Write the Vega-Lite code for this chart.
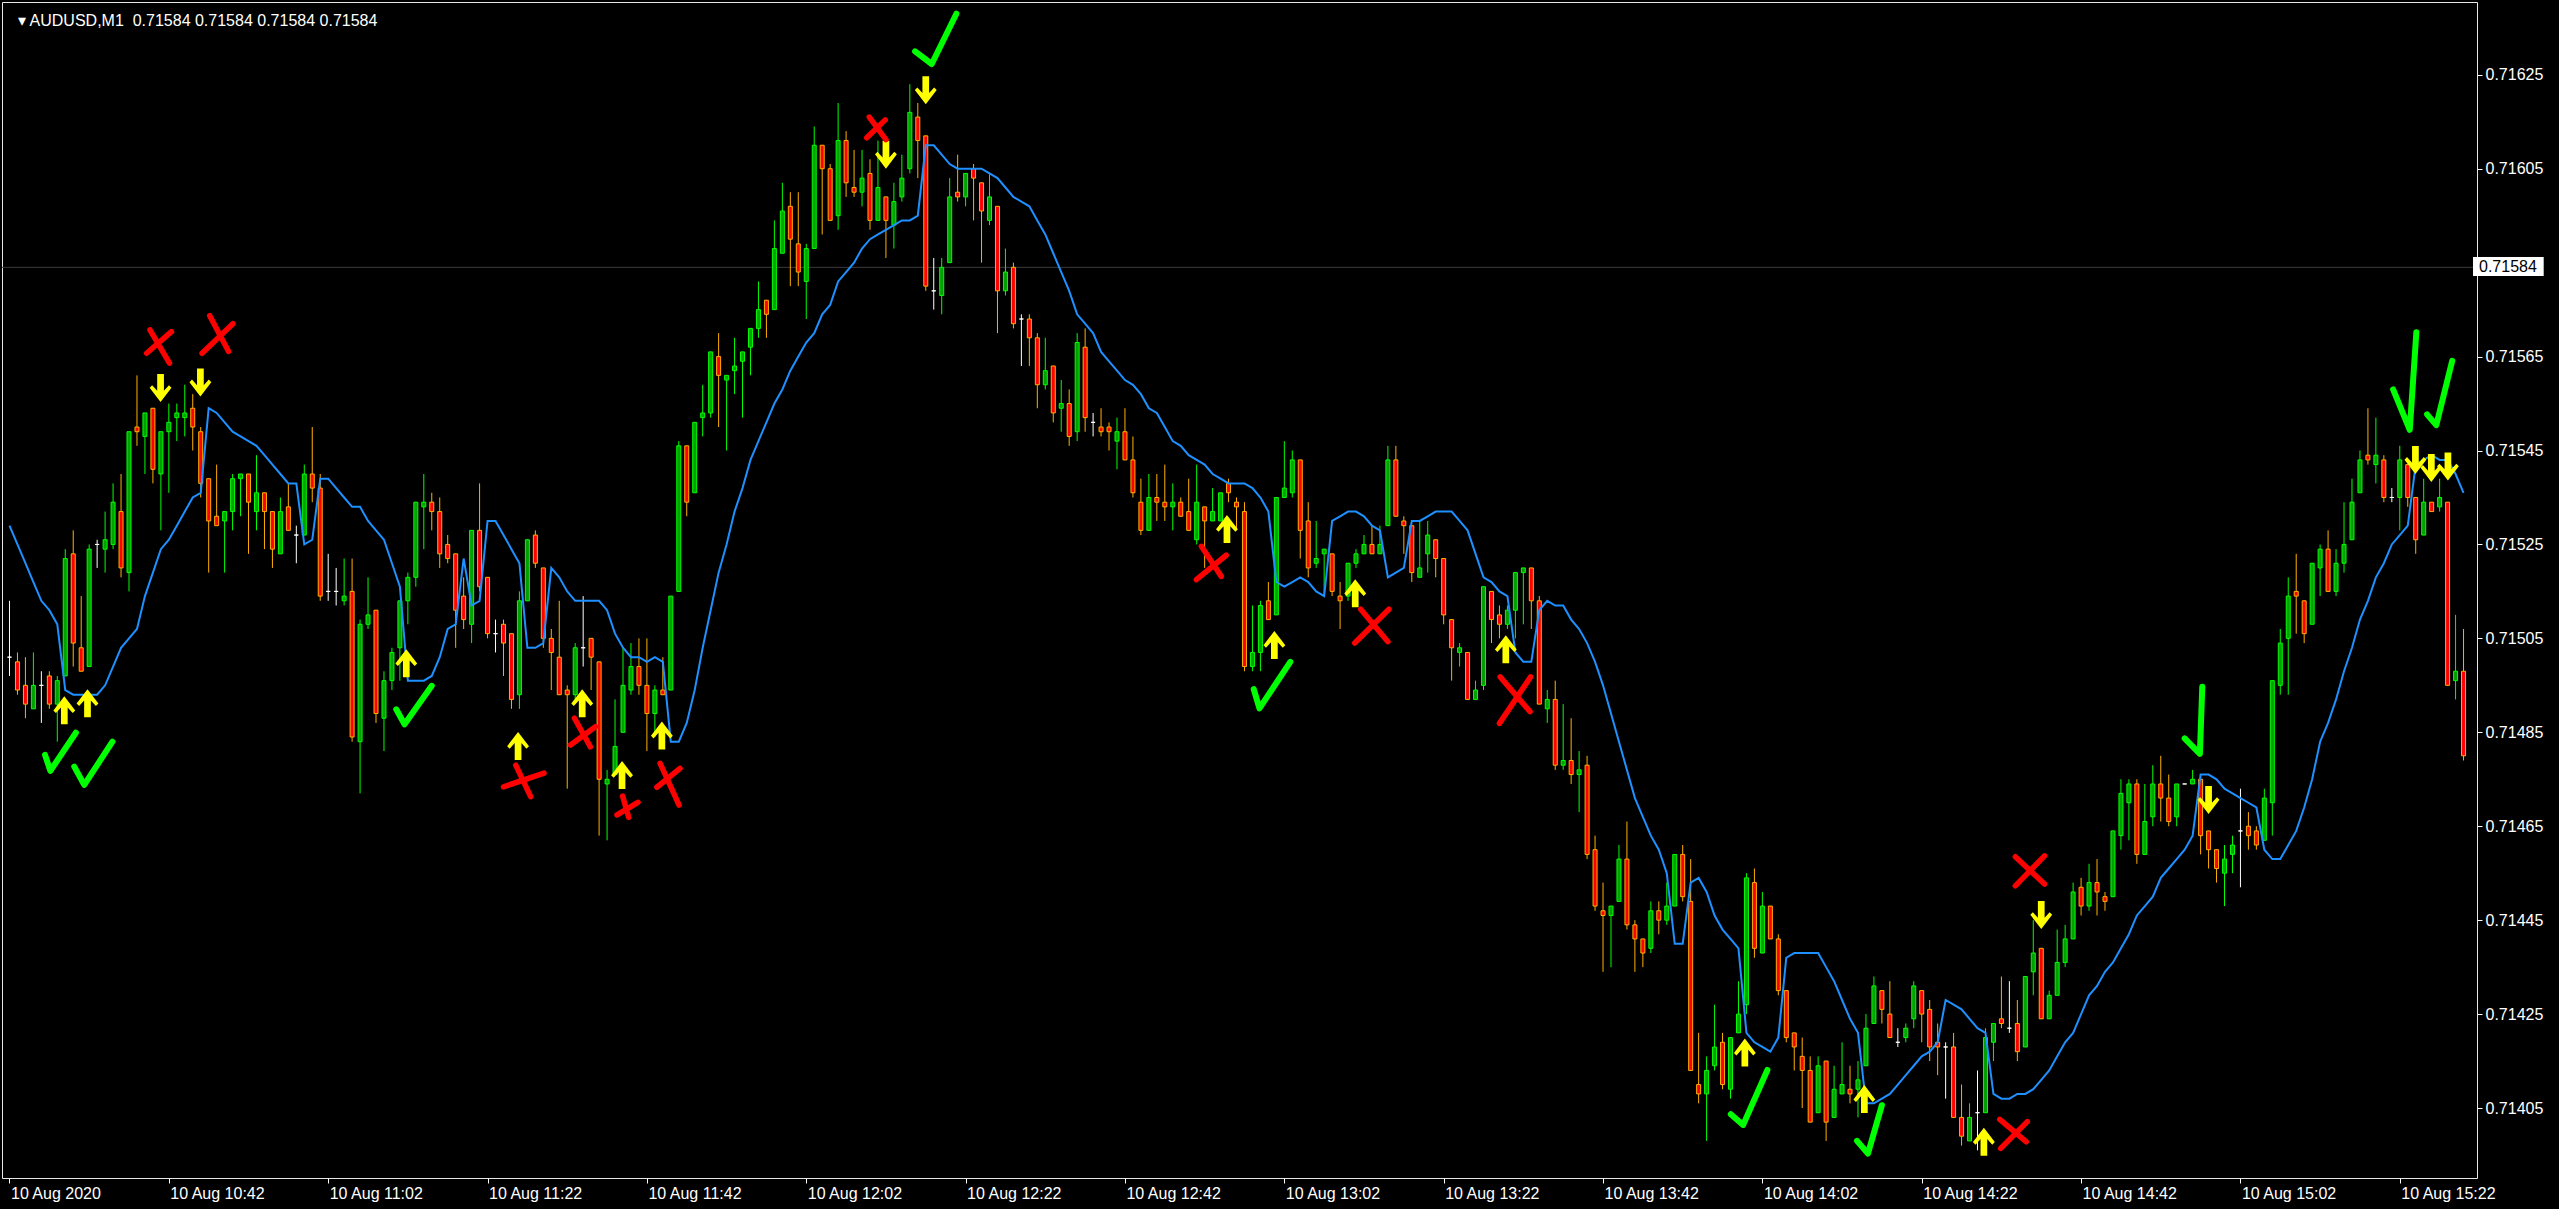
{
"$schema": "https://vega.github.io/schema/vega-lite/v6.json",
"width": 2475, "height": 1176, "autosize": "none",
"padding": {"left": 2, "top": 2, "right": 82, "bottom": 31},
"background": "#000000",
"title": {"text": "▾ AUDUSD,M1\u00a0 0.71584 0.71584 0.71584 0.71584", "anchor": "start", "frame": "group", "orient": "top", "offset": -40, "baseline": "alphabetic", "dx": 16, "color": "#FFFFFF", "font": "Liberation Sans", "fontSize": 16, "fontWeight": "normal"},
"config": {"view": {"stroke": "#E6E6E6", "strokeWidth": 1}, "axis": {"grid": false, "domain": false, "labelColor": "#FFFFFF", "tickColor": "#FFFFFF", "labelFont": "Liberation Sans", "labelFontSize": 16, "tickSize": 5}},
"datasets": {
"bars": [
{"i":0,"o":0.71501,"h":0.71513,"l":0.71497,"c":0.71501,"ma":0.71529},
{"i":1,"o":0.71500,"h":0.71502,"l":0.71493,"c":0.71494,"ma":0.71525},
{"i":2,"o":0.71495,"h":0.71501,"l":0.71488,"c":0.71491,"ma":0.71521},
{"i":3,"o":0.71490,"h":0.71502,"l":0.71490,"c":0.71495,"ma":0.71517},
{"i":4,"o":0.71495,"h":0.71498,"l":0.71487,"c":0.71495,"ma":0.71513},
{"i":5,"o":0.71497,"h":0.71498,"l":0.71490,"c":0.71491,"ma":0.71511},
{"i":6,"o":0.71491,"h":0.71497,"l":0.71483,"c":0.71496,"ma":0.71508},
{"i":7,"o":0.71497,"h":0.71524,"l":0.71497,"c":0.71522,"ma":0.71494},
{"i":8,"o":0.71523,"h":0.71528,"l":0.71499,"c":0.71504,"ma":0.71493},
{"i":9,"o":0.71503,"h":0.71514,"l":0.71498,"c":0.71498,"ma":0.71493},
{"i":10,"o":0.71499,"h":0.71525,"l":0.71499,"c":0.71524,"ma":0.71493},
{"i":11,"o":0.71525,"h":0.71526,"l":0.71520,"c":0.71525,"ma":0.71493},
{"i":12,"o":0.71524,"h":0.71532,"l":0.71519,"c":0.71526,"ma":0.71495},
{"i":13,"o":0.71525,"h":0.71538,"l":0.71524,"c":0.71534,"ma":0.71499},
{"i":14,"o":0.71532,"h":0.71540,"l":0.71518,"c":0.71520,"ma":0.71503},
{"i":15,"o":0.71519,"h":0.71549,"l":0.71515,"c":0.71549,"ma":0.71505},
{"i":16,"o":0.71550,"h":0.71561,"l":0.71546,"c":0.71549,"ma":0.71507},
{"i":17,"o":0.71548,"h":0.71553,"l":0.71540,"c":0.71553,"ma":0.71514},
{"i":18,"o":0.71554,"h":0.71554,"l":0.71538,"c":0.71541,"ma":0.71519},
{"i":19,"o":0.71540,"h":0.71549,"l":0.71528,"c":0.71549,"ma":0.71524},
{"i":20,"o":0.71549,"h":0.71555,"l":0.71536,"c":0.71551,"ma":0.71526},
{"i":21,"o":0.71552,"h":0.71555,"l":0.71547,"c":0.71553,"ma":0.71529},
{"i":22,"o":0.71552,"h":0.71559,"l":0.71548,"c":0.71553,"ma":0.71532},
{"i":23,"o":0.71554,"h":0.71557,"l":0.71545,"c":0.71550,"ma":0.71535},
{"i":24,"o":0.71549,"h":0.71550,"l":0.71535,"c":0.71538,"ma":0.71536},
{"i":25,"o":0.71539,"h":0.71539,"l":0.71519,"c":0.71530,"ma":0.71554},
{"i":26,"o":0.71531,"h":0.71542,"l":0.71529,"c":0.71529,"ma":0.71553},
{"i":27,"o":0.71530,"h":0.71532,"l":0.71519,"c":0.71532,"ma":0.71551},
{"i":28,"o":0.71532,"h":0.71540,"l":0.71528,"c":0.71539,"ma":0.71549},
{"i":29,"o":0.71539,"h":0.71540,"l":0.71531,"c":0.71540,"ma":0.71548},
{"i":30,"o":0.71540,"h":0.71540,"l":0.71523,"c":0.71534,"ma":0.71547},
{"i":31,"o":0.71532,"h":0.71544,"l":0.71528,"c":0.71536,"ma":0.71546},
{"i":32,"o":0.71536,"h":0.71536,"l":0.71524,"c":0.71532,"ma":0.71544},
{"i":33,"o":0.71532,"h":0.71532,"l":0.71520,"c":0.71524,"ma":0.71542},
{"i":34,"o":0.71523,"h":0.71535,"l":0.71523,"c":0.71532,"ma":0.71540},
{"i":35,"o":0.71533,"h":0.71538,"l":0.71528,"c":0.71528,"ma":0.71538},
{"i":36,"o":0.71527,"h":0.71529,"l":0.71521,"c":0.71527,"ma":0.71538},
{"i":37,"o":0.71527,"h":0.71542,"l":0.71527,"c":0.71540,"ma":0.71525},
{"i":38,"o":0.71540,"h":0.71550,"l":0.71534,"c":0.71537,"ma":0.71526},
{"i":39,"o":0.71537,"h":0.71540,"l":0.71513,"c":0.71514,"ma":0.71539},
{"i":40,"o":0.71515,"h":0.71523,"l":0.71513,"c":0.71515,"ma":0.71539},
{"i":41,"o":0.71515,"h":0.71520,"l":0.71512,"c":0.71515,"ma":0.71537},
{"i":42,"o":0.71513,"h":0.71522,"l":0.71512,"c":0.71514,"ma":0.71535},
{"i":43,"o":0.71515,"h":0.71522,"l":0.71483,"c":0.71484,"ma":0.71533},
{"i":44,"o":0.71483,"h":0.71509,"l":0.71472,"c":0.71508,"ma":0.71533},
{"i":45,"o":0.71508,"h":0.71518,"l":0.71507,"c":0.71510,"ma":0.71530},
{"i":46,"o":0.71511,"h":0.71511,"l":0.71487,"c":0.71489,"ma":0.71528},
{"i":47,"o":0.71488,"h":0.71498,"l":0.71481,"c":0.71496,"ma":0.71526},
{"i":48,"o":0.71496,"h":0.71503,"l":0.71494,"c":0.71502,"ma":0.71521},
{"i":49,"o":0.71503,"h":0.71513,"l":0.71496,"c":0.71513,"ma":0.71516},
{"i":50,"o":0.71513,"h":0.71519,"l":0.71508,"c":0.71518,"ma":0.71496},
{"i":51,"o":0.71518,"h":0.71534,"l":0.71516,"c":0.71534,"ma":0.71496},
{"i":52,"o":0.71533,"h":0.71540,"l":0.71524,"c":0.71534,"ma":0.71496},
{"i":53,"o":0.71534,"h":0.71536,"l":0.71528,"c":0.71532,"ma":0.71497},
{"i":54,"o":0.71532,"h":0.71535,"l":0.71520,"c":0.71523,"ma":0.71501},
{"i":55,"o":0.71525,"h":0.71527,"l":0.71521,"c":0.71522,"ma":0.71507},
{"i":56,"o":0.71523,"h":0.71523,"l":0.71503,"c":0.71511,"ma":0.71508},
{"i":57,"o":0.71514,"h":0.71518,"l":0.71507,"c":0.71509,"ma":0.71522},
{"i":58,"o":0.71508,"h":0.71528,"l":0.71504,"c":0.71528,"ma":0.71512},
{"i":59,"o":0.71528,"h":0.71538,"l":0.71515,"c":0.71516,"ma":0.71513},
{"i":60,"o":0.71518,"h":0.71518,"l":0.71505,"c":0.71506,"ma":0.71530},
{"i":61,"o":0.71506,"h":0.71509,"l":0.71502,"c":0.71506,"ma":0.71530},
{"i":62,"o":0.71508,"h":0.71509,"l":0.71497,"c":0.71504,"ma":0.71527},
{"i":63,"o":0.71506,"h":0.71506,"l":0.71490,"c":0.71492,"ma":0.71524},
{"i":64,"o":0.71493,"h":0.71515,"l":0.71490,"c":0.71513,"ma":0.71521},
{"i":65,"o":0.71513,"h":0.71526,"l":0.71513,"c":0.71526,"ma":0.71503},
{"i":66,"o":0.71527,"h":0.71528,"l":0.71520,"c":0.71521,"ma":0.71503},
{"i":67,"o":0.71520,"h":0.71520,"l":0.71503,"c":0.71505,"ma":0.71504},
{"i":68,"o":0.71505,"h":0.71507,"l":0.71494,"c":0.71502,"ma":0.71520},
{"i":69,"o":0.71501,"h":0.71513,"l":0.71493,"c":0.71493,"ma":0.71518},
{"i":70,"o":0.71494,"h":0.71495,"l":0.71473,"c":0.71493,"ma":0.71515},
{"i":71,"o":0.71493,"h":0.71504,"l":0.71492,"c":0.71503,"ma":0.71513},
{"i":72,"o":0.71503,"h":0.71514,"l":0.71499,"c":0.71503,"ma":0.71513},
{"i":73,"o":0.71505,"h":0.71505,"l":0.71494,"c":0.71501,"ma":0.71513},
{"i":74,"o":0.71500,"h":0.71500,"l":0.71463,"c":0.71475,"ma":0.71513},
{"i":75,"o":0.71474,"h":0.71477,"l":0.71462,"c":0.71475,"ma":0.71511},
{"i":76,"o":0.71476,"h":0.71492,"l":0.71476,"c":0.71482,"ma":0.71506},
{"i":77,"o":0.71485,"h":0.71503,"l":0.71485,"c":0.71495,"ma":0.71503},
{"i":78,"o":0.71494,"h":0.71504,"l":0.71493,"c":0.71499,"ma":0.71501},
{"i":79,"o":0.71499,"h":0.71505,"l":0.71493,"c":0.71495,"ma":0.71501},
{"i":80,"o":0.71495,"h":0.71505,"l":0.71481,"c":0.71489,"ma":0.71500},
{"i":81,"o":0.71489,"h":0.71495,"l":0.71484,"c":0.71494,"ma":0.71501},
{"i":82,"o":0.71494,"h":0.71501,"l":0.71493,"c":0.71493,"ma":0.71500},
{"i":83,"o":0.71494,"h":0.71514,"l":0.71494,"c":0.71514,"ma":0.71483},
{"i":84,"o":0.71515,"h":0.71547,"l":0.71515,"c":0.71546,"ma":0.71483},
{"i":85,"o":0.71546,"h":0.71546,"l":0.71531,"c":0.71534,"ma":0.71487},
{"i":86,"o":0.71536,"h":0.71551,"l":0.71536,"c":0.71551,"ma":0.71494},
{"i":87,"o":0.71552,"h":0.71559,"l":0.71548,"c":0.71553,"ma":0.71503},
{"i":88,"o":0.71553,"h":0.71566,"l":0.71552,"c":0.71566,"ma":0.71511},
{"i":89,"o":0.71565,"h":0.71570,"l":0.71550,"c":0.71561,"ma":0.71519},
{"i":90,"o":0.71560,"h":0.71561,"l":0.71545,"c":0.71561,"ma":0.71525},
{"i":91,"o":0.71562,"h":0.71569,"l":0.71557,"c":0.71563,"ma":0.71532},
{"i":92,"o":0.71564,"h":0.71566,"l":0.71552,"c":0.71566,"ma":0.71537},
{"i":93,"o":0.71567,"h":0.71571,"l":0.71561,"c":0.71571,"ma":0.71543},
{"i":94,"o":0.71571,"h":0.71581,"l":0.71569,"c":0.71575,"ma":0.71547},
{"i":95,"o":0.71577,"h":0.71577,"l":0.71569,"c":0.71574,"ma":0.71551},
{"i":96,"o":0.71575,"h":0.71594,"l":0.71575,"c":0.71588,"ma":0.71555},
{"i":97,"o":0.71587,"h":0.71602,"l":0.71587,"c":0.71596,"ma":0.71558},
{"i":98,"o":0.71597,"h":0.71600,"l":0.71580,"c":0.71590,"ma":0.71562},
{"i":99,"o":0.71589,"h":0.71600,"l":0.71580,"c":0.71583,"ma":0.71565},
{"i":100,"o":0.71581,"h":0.71589,"l":0.71573,"c":0.71588,"ma":0.71568},
{"i":101,"o":0.71588,"h":0.71614,"l":0.71588,"c":0.71610,"ma":0.71570},
{"i":102,"o":0.71610,"h":0.71610,"l":0.71591,"c":0.71605,"ma":0.71574},
{"i":103,"o":0.71605,"h":0.71606,"l":0.71594,"c":0.71594,"ma":0.71576},
{"i":104,"o":0.71595,"h":0.71619,"l":0.71592,"c":0.71611,"ma":0.71581},
{"i":105,"o":0.71611,"h":0.71613,"l":0.71599,"c":0.71602,"ma":0.71583},
{"i":106,"o":0.71601,"h":0.71609,"l":0.71599,"c":0.71600,"ma":0.71585},
{"i":107,"o":0.71600,"h":0.71609,"l":0.71597,"c":0.71603,"ma":0.71588},
{"i":108,"o":0.71604,"h":0.71607,"l":0.71592,"c":0.71594,"ma":0.71590},
{"i":109,"o":0.71594,"h":0.71611,"l":0.71594,"c":0.71601,"ma":0.71591},
{"i":110,"o":0.71599,"h":0.71599,"l":0.71586,"c":0.71594,"ma":0.71592},
{"i":111,"o":0.71593,"h":0.71602,"l":0.71588,"c":0.71598,"ma":0.71593},
{"i":112,"o":0.71599,"h":0.71608,"l":0.71598,"c":0.71603,"ma":0.71594},
{"i":113,"o":0.71605,"h":0.71623,"l":0.71604,"c":0.71617,"ma":0.71594},
{"i":114,"o":0.71616,"h":0.71619,"l":0.71603,"c":0.71611,"ma":0.71595},
{"i":115,"o":0.71612,"h":0.71612,"l":0.71579,"c":0.71580,"ma":0.71610},
{"i":116,"o":0.71579,"h":0.71586,"l":0.71575,"c":0.71579,"ma":0.71610},
{"i":117,"o":0.71578,"h":0.71586,"l":0.71574,"c":0.71584,"ma":0.71608},
{"i":118,"o":0.71585,"h":0.71603,"l":0.71585,"c":0.71599,"ma":0.71606},
{"i":119,"o":0.71600,"h":0.71608,"l":0.71598,"c":0.71599,"ma":0.71605},
{"i":120,"o":0.71599,"h":0.71604,"l":0.71597,"c":0.71604,"ma":0.71605},
{"i":121,"o":0.71605,"h":0.71606,"l":0.71594,"c":0.71603,"ma":0.71605},
{"i":122,"o":0.71602,"h":0.71602,"l":0.71585,"c":0.71596,"ma":0.71605},
{"i":123,"o":0.71594,"h":0.71604,"l":0.71593,"c":0.71599,"ma":0.71604},
{"i":124,"o":0.71597,"h":0.71597,"l":0.71570,"c":0.71579,"ma":0.71603},
{"i":125,"o":0.71579,"h":0.71588,"l":0.71578,"c":0.71583,"ma":0.71601},
{"i":126,"o":0.71584,"h":0.71585,"l":0.71571,"c":0.71572,"ma":0.71599},
{"i":127,"o":0.71573,"h":0.71574,"l":0.71563,"c":0.71573,"ma":0.71598},
{"i":128,"o":0.71573,"h":0.71574,"l":0.71563,"c":0.71569,"ma":0.71597},
{"i":129,"o":0.71569,"h":0.71570,"l":0.71554,"c":0.71559,"ma":0.71594},
{"i":130,"o":0.71559,"h":0.71569,"l":0.71558,"c":0.71562,"ma":0.71591},
{"i":131,"o":0.71563,"h":0.71563,"l":0.71551,"c":0.71553,"ma":0.71587},
{"i":132,"o":0.71554,"h":0.71560,"l":0.71549,"c":0.71555,"ma":0.71583},
{"i":133,"o":0.71555,"h":0.71558,"l":0.71546,"c":0.71548,"ma":0.71579},
{"i":134,"o":0.71549,"h":0.71570,"l":0.71547,"c":0.71568,"ma":0.71574},
{"i":135,"o":0.71567,"h":0.71571,"l":0.71549,"c":0.71552,"ma":0.71572},
{"i":136,"o":0.71551,"h":0.71553,"l":0.71548,"c":0.71551,"ma":0.71570},
{"i":137,"o":0.71550,"h":0.71554,"l":0.71548,"c":0.71549,"ma":0.71566},
{"i":138,"o":0.71550,"h":0.71551,"l":0.71545,"c":0.71549,"ma":0.71564},
{"i":139,"o":0.71547,"h":0.71552,"l":0.71541,"c":0.71549,"ma":0.71562},
{"i":140,"o":0.71549,"h":0.71554,"l":0.71543,"c":0.71543,"ma":0.71560},
{"i":141,"o":0.71543,"h":0.71548,"l":0.71535,"c":0.71536,"ma":0.71559},
{"i":142,"o":0.71534,"h":0.71539,"l":0.71527,"c":0.71528,"ma":0.71557},
{"i":143,"o":0.71528,"h":0.71540,"l":0.71528,"c":0.71535,"ma":0.71554},
{"i":144,"o":0.71535,"h":0.71540,"l":0.71530,"c":0.71534,"ma":0.71553},
{"i":145,"o":0.71534,"h":0.71542,"l":0.71530,"c":0.71533,"ma":0.71550},
{"i":146,"o":0.71533,"h":0.71538,"l":0.71528,"c":0.71534,"ma":0.71547},
{"i":147,"o":0.71534,"h":0.71535,"l":0.71531,"c":0.71531,"ma":0.71546},
{"i":148,"o":0.71532,"h":0.71539,"l":0.71528,"c":0.71528,"ma":0.71544},
{"i":149,"o":0.71526,"h":0.71542,"l":0.71525,"c":0.71534,"ma":0.71543},
{"i":150,"o":0.71533,"h":0.71533,"l":0.71520,"c":0.71530,"ma":0.71542},
{"i":151,"o":0.71530,"h":0.71537,"l":0.71530,"c":0.71532,"ma":0.71540},
{"i":152,"o":0.71530,"h":0.71536,"l":0.71530,"c":0.71536,"ma":0.71539},
{"i":153,"o":0.71538,"h":0.71539,"l":0.71534,"c":0.71536,"ma":0.71538},
{"i":154,"o":0.71534,"h":0.71535,"l":0.71528,"c":0.71533,"ma":0.71538},
{"i":155,"o":0.71532,"h":0.71534,"l":0.71498,"c":0.71499,"ma":0.71538},
{"i":156,"o":0.71499,"h":0.71512,"l":0.71498,"c":0.71502,"ma":0.71537},
{"i":157,"o":0.71502,"h":0.71513,"l":0.71498,"c":0.71512,"ma":0.71535},
{"i":158,"o":0.71513,"h":0.71517,"l":0.71509,"c":0.71509,"ma":0.71532},
{"i":159,"o":0.71510,"h":0.71535,"l":0.71510,"c":0.71535,"ma":0.71517},
{"i":160,"o":0.71535,"h":0.71547,"l":0.71535,"c":0.71537,"ma":0.71516},
{"i":161,"o":0.71536,"h":0.71545,"l":0.71535,"c":0.71543,"ma":0.71517},
{"i":162,"o":0.71543,"h":0.71543,"l":0.71522,"c":0.71528,"ma":0.71518},
{"i":163,"o":0.71530,"h":0.71534,"l":0.71518,"c":0.71520,"ma":0.71517},
{"i":164,"o":0.71521,"h":0.71530,"l":0.71520,"c":0.71522,"ma":0.71515},
{"i":165,"o":0.71523,"h":0.71524,"l":0.71514,"c":0.71524,"ma":0.71514},
{"i":166,"o":0.71523,"h":0.71523,"l":0.71514,"c":0.71515,"ma":0.71530},
{"i":167,"o":0.71514,"h":0.71517,"l":0.71507,"c":0.71513,"ma":0.71531},
{"i":168,"o":0.71514,"h":0.71521,"l":0.71513,"c":0.71521,"ma":0.71532},
{"i":169,"o":0.71521,"h":0.71524,"l":0.71520,"c":0.71523,"ma":0.71532},
{"i":170,"o":0.71523,"h":0.71527,"l":0.71523,"c":0.71525,"ma":0.71531},
{"i":171,"o":0.71525,"h":0.71529,"l":0.71523,"c":0.71523,"ma":0.71529},
{"i":172,"o":0.71523,"h":0.71529,"l":0.71523,"c":0.71525,"ma":0.71528},
{"i":173,"o":0.71529,"h":0.71546,"l":0.71529,"c":0.71543,"ma":0.71518},
{"i":174,"o":0.71543,"h":0.71546,"l":0.71531,"c":0.71531,"ma":0.71519},
{"i":175,"o":0.71530,"h":0.71531,"l":0.71523,"c":0.71529,"ma":0.71520},
{"i":176,"o":0.71529,"h":0.71529,"l":0.71517,"c":0.71519,"ma":0.71530},
{"i":177,"o":0.71518,"h":0.71530,"l":0.71518,"c":0.71520,"ma":0.71530},
{"i":178,"o":0.71523,"h":0.71530,"l":0.71519,"c":0.71527,"ma":0.71531},
{"i":179,"o":0.71526,"h":0.71526,"l":0.71518,"c":0.71522,"ma":0.71532},
{"i":180,"o":0.71522,"h":0.71522,"l":0.71508,"c":0.71510,"ma":0.71532},
{"i":181,"o":0.71509,"h":0.71509,"l":0.71496,"c":0.71503,"ma":0.71532},
{"i":182,"o":0.71502,"h":0.71504,"l":0.71499,"c":0.71503,"ma":0.71530},
{"i":183,"o":0.71502,"h":0.71502,"l":0.71492,"c":0.71492,"ma":0.71528},
{"i":184,"o":0.71492,"h":0.71496,"l":0.71492,"c":0.71494,"ma":0.71523},
{"i":185,"o":0.71495,"h":0.71516,"l":0.71494,"c":0.71516,"ma":0.71518},
{"i":186,"o":0.71515,"h":0.71515,"l":0.71504,"c":0.71509,"ma":0.71517},
{"i":187,"o":0.71510,"h":0.71512,"l":0.71505,"c":0.71508,"ma":0.71515},
{"i":188,"o":0.71508,"h":0.71512,"l":0.71507,"c":0.71511,"ma":0.71514},
{"i":189,"o":0.71511,"h":0.71519,"l":0.71505,"c":0.71519,"ma":0.71502},
{"i":190,"o":0.71519,"h":0.71520,"l":0.71508,"c":0.71520,"ma":0.71500},
{"i":191,"o":0.71520,"h":0.71520,"l":0.71507,"c":0.71513,"ma":0.71500},
{"i":192,"o":0.71513,"h":0.71514,"l":0.71491,"c":0.71491,"ma":0.71511},
{"i":193,"o":0.71490,"h":0.71494,"l":0.71487,"c":0.71492,"ma":0.71513},
{"i":194,"o":0.71492,"h":0.71496,"l":0.71477,"c":0.71478,"ma":0.71512},
{"i":195,"o":0.71478,"h":0.71491,"l":0.71477,"c":0.71479,"ma":0.71512},
{"i":196,"o":0.71479,"h":0.71488,"l":0.71474,"c":0.71476,"ma":0.71509},
{"i":197,"o":0.71476,"h":0.71481,"l":0.71468,"c":0.71477,"ma":0.71507},
{"i":198,"o":0.71478,"h":0.71480,"l":0.71458,"c":0.71459,"ma":0.71504},
{"i":199,"o":0.71460,"h":0.71463,"l":0.71447,"c":0.71448,"ma":0.71500},
{"i":200,"o":0.71447,"h":0.71453,"l":0.71434,"c":0.71446,"ma":0.71495},
{"i":201,"o":0.71446,"h":0.71448,"l":0.71435,"c":0.71448,"ma":0.71489},
{"i":202,"o":0.71449,"h":0.71461,"l":0.71449,"c":0.71458,"ma":0.71483},
{"i":203,"o":0.71458,"h":0.71466,"l":0.71443,"c":0.71444,"ma":0.71477},
{"i":204,"o":0.71444,"h":0.71445,"l":0.71434,"c":0.71441,"ma":0.71471},
{"i":205,"o":0.71441,"h":0.71441,"l":0.71435,"c":0.71438,"ma":0.71467},
{"i":206,"o":0.71439,"h":0.71449,"l":0.71438,"c":0.71447,"ma":0.71463},
{"i":207,"o":0.71447,"h":0.71449,"l":0.71442,"c":0.71445,"ma":0.71460},
{"i":208,"o":0.71445,"h":0.71453,"l":0.71444,"c":0.71448,"ma":0.71455},
{"i":209,"o":0.71448,"h":0.71459,"l":0.71448,"c":0.71459,"ma":0.71440},
{"i":210,"o":0.71459,"h":0.71461,"l":0.71449,"c":0.71450,"ma":0.71440},
{"i":211,"o":0.71449,"h":0.71458,"l":0.71413,"c":0.71413,"ma":0.71453},
{"i":212,"o":0.71410,"h":0.71421,"l":0.71406,"c":0.71408,"ma":0.71454},
{"i":213,"o":0.71408,"h":0.71416,"l":0.71398,"c":0.71413,"ma":0.71451},
{"i":214,"o":0.71414,"h":0.71427,"l":0.71413,"c":0.71418,"ma":0.71446},
{"i":215,"o":0.71419,"h":0.71421,"l":0.71409,"c":0.71410,"ma":0.71443},
{"i":216,"o":0.71409,"h":0.71420,"l":0.71407,"c":0.71420,"ma":0.71441},
{"i":217,"o":0.71421,"h":0.71432,"l":0.71421,"c":0.71425,"ma":0.71439},
{"i":218,"o":0.71427,"h":0.71455,"l":0.71425,"c":0.71454,"ma":0.71421},
{"i":219,"o":0.71453,"h":0.71456,"l":0.71437,"c":0.71439,"ma":0.71419},
{"i":220,"o":0.71438,"h":0.71451,"l":0.71438,"c":0.71448,"ma":0.71418},
{"i":221,"o":0.71448,"h":0.71448,"l":0.71441,"c":0.71441,"ma":0.71417},
{"i":222,"o":0.71441,"h":0.71442,"l":0.71429,"c":0.71430,"ma":0.71420},
{"i":223,"o":0.71430,"h":0.71430,"l":0.71419,"c":0.71420,"ma":0.71437},
{"i":224,"o":0.71421,"h":0.71421,"l":0.71413,"c":0.71418,"ma":0.71438},
{"i":225,"o":0.71416,"h":0.71420,"l":0.71405,"c":0.71413,"ma":0.71438},
{"i":226,"o":0.71413,"h":0.71416,"l":0.71402,"c":0.71402,"ma":0.71438},
{"i":227,"o":0.71404,"h":0.71416,"l":0.71404,"c":0.71414,"ma":0.71438},
{"i":228,"o":0.71415,"h":0.71415,"l":0.71398,"c":0.71402,"ma":0.71435},
{"i":229,"o":0.71403,"h":0.71414,"l":0.71403,"c":0.71409,"ma":0.71432},
{"i":230,"o":0.71408,"h":0.71419,"l":0.71408,"c":0.71410,"ma":0.71428},
{"i":231,"o":0.71409,"h":0.71414,"l":0.71406,"c":0.71408,"ma":0.71424},
{"i":232,"o":0.71409,"h":0.71415,"l":0.71403,"c":0.71411,"ma":0.71421},
{"i":233,"o":0.71414,"h":0.71425,"l":0.71414,"c":0.71422,"ma":0.71406},
{"i":234,"o":0.71423,"h":0.71433,"l":0.71423,"c":0.71431,"ma":0.71406},
{"i":235,"o":0.71430,"h":0.71430,"l":0.71423,"c":0.71426,"ma":0.71407},
{"i":236,"o":0.71425,"h":0.71432,"l":0.71420,"c":0.71420,"ma":0.71408},
{"i":237,"o":0.71419,"h":0.71422,"l":0.71418,"c":0.71419,"ma":0.71410},
{"i":238,"o":0.71420,"h":0.71423,"l":0.71419,"c":0.71422,"ma":0.71412},
{"i":239,"o":0.71424,"h":0.71432,"l":0.71422,"c":0.71431,"ma":0.71414},
{"i":240,"o":0.71430,"h":0.71430,"l":0.71419,"c":0.71425,"ma":0.71416},
{"i":241,"o":0.71426,"h":0.71428,"l":0.71415,"c":0.71418,"ma":0.71417},
{"i":242,"o":0.71419,"h":0.71423,"l":0.71412,"c":0.71418,"ma":0.71419},
{"i":243,"o":0.71418,"h":0.71419,"l":0.71407,"c":0.71418,"ma":0.71428},
{"i":244,"o":0.71418,"h":0.71421,"l":0.71403,"c":0.71403,"ma":0.71427},
{"i":245,"o":0.71403,"h":0.71410,"l":0.71397,"c":0.71399,"ma":0.71426},
{"i":246,"o":0.71398,"h":0.71406,"l":0.71398,"c":0.71403,"ma":0.71424},
{"i":247,"o":0.71404,"h":0.71413,"l":0.71396,"c":0.71404,"ma":0.71422},
{"i":248,"o":0.71404,"h":0.71422,"l":0.71404,"c":0.71420,"ma":0.71421},
{"i":249,"o":0.71419,"h":0.71423,"l":0.71415,"c":0.71423,"ma":0.71408},
{"i":250,"o":0.71424,"h":0.71433,"l":0.71422,"c":0.71423,"ma":0.71407},
{"i":251,"o":0.71422,"h":0.71432,"l":0.71421,"c":0.71422,"ma":0.71407},
{"i":252,"o":0.71423,"h":0.71428,"l":0.71415,"c":0.71417,"ma":0.71408},
{"i":253,"o":0.71418,"h":0.71433,"l":0.71418,"c":0.71433,"ma":0.71408},
{"i":254,"o":0.71434,"h":0.71445,"l":0.71429,"c":0.71438,"ma":0.71409},
{"i":255,"o":0.71439,"h":0.71439,"l":0.71424,"c":0.71424,"ma":0.71411},
{"i":256,"o":0.71424,"h":0.71430,"l":0.71424,"c":0.71429,"ma":0.71413},
{"i":257,"o":0.71429,"h":0.71443,"l":0.71429,"c":0.71436,"ma":0.71416},
{"i":258,"o":0.71436,"h":0.71444,"l":0.71435,"c":0.71441,"ma":0.71419},
{"i":259,"o":0.71441,"h":0.71453,"l":0.71441,"c":0.71451,"ma":0.71421},
{"i":260,"o":0.71452,"h":0.71454,"l":0.71446,"c":0.71448,"ma":0.71425},
{"i":261,"o":0.71448,"h":0.71457,"l":0.71447,"c":0.71453,"ma":0.71429},
{"i":262,"o":0.71453,"h":0.71458,"l":0.71446,"c":0.71451,"ma":0.71431},
{"i":263,"o":0.71450,"h":0.71451,"l":0.71447,"c":0.71449,"ma":0.71434},
{"i":264,"o":0.71450,"h":0.71464,"l":0.71450,"c":0.71464,"ma":0.71436},
{"i":265,"o":0.71463,"h":0.71475,"l":0.71460,"c":0.71472,"ma":0.71439},
{"i":266,"o":0.71470,"h":0.71475,"l":0.71462,"c":0.71474,"ma":0.71442},
{"i":267,"o":0.71474,"h":0.71475,"l":0.71457,"c":0.71459,"ma":0.71446},
{"i":268,"o":0.71459,"h":0.71474,"l":0.71459,"c":0.71466,"ma":0.71448},
{"i":269,"o":0.71467,"h":0.71478,"l":0.71465,"c":0.71474,"ma":0.71450},
{"i":270,"o":0.71474,"h":0.71480,"l":0.71466,"c":0.71471,"ma":0.71454},
{"i":271,"o":0.71471,"h":0.71476,"l":0.71465,"c":0.71466,"ma":0.71456},
{"i":272,"o":0.71467,"h":0.71474,"l":0.71465,"c":0.71474,"ma":0.71458},
{"i":273,"o":0.71474,"h":0.71474,"l":0.71474,"c":0.71474,"ma":0.71460},
{"i":274,"o":0.71474,"h":0.71477,"l":0.71474,"c":0.71475,"ma":0.71463},
{"i":275,"o":0.71475,"h":0.71476,"l":0.71459,"c":0.71463,"ma":0.71476},
{"i":276,"o":0.71464,"h":0.71464,"l":0.71456,"c":0.71460,"ma":0.71476},
{"i":277,"o":0.71460,"h":0.71460,"l":0.71453,"c":0.71456,"ma":0.71475},
{"i":278,"o":0.71455,"h":0.71461,"l":0.71448,"c":0.71458,"ma":0.71473},
{"i":279,"o":0.71459,"h":0.71463,"l":0.71455,"c":0.71461,"ma":0.71472},
{"i":280,"o":0.71464,"h":0.71473,"l":0.71452,"c":0.71464,"ma":0.71471},
{"i":281,"o":0.71465,"h":0.71468,"l":0.71460,"c":0.71463,"ma":0.71470},
{"i":282,"o":0.71464,"h":0.71465,"l":0.71460,"c":0.71461,"ma":0.71469},
{"i":283,"o":0.71462,"h":0.71473,"l":0.71462,"c":0.71471,"ma":0.71460},
{"i":284,"o":0.71470,"h":0.71496,"l":0.71463,"c":0.71496,"ma":0.71458},
{"i":285,"o":0.71495,"h":0.71507,"l":0.71493,"c":0.71504,"ma":0.71458},
{"i":286,"o":0.71505,"h":0.71518,"l":0.71493,"c":0.71514,"ma":0.71461},
{"i":287,"o":0.71515,"h":0.71523,"l":0.71506,"c":0.71514,"ma":0.71464},
{"i":288,"o":0.71513,"h":0.71513,"l":0.71504,"c":0.71506,"ma":0.71469},
{"i":289,"o":0.71508,"h":0.71521,"l":0.71508,"c":0.71521,"ma":0.71475},
{"i":290,"o":0.71520,"h":0.71525,"l":0.71514,"c":0.71524,"ma":0.71483},
{"i":291,"o":0.71524,"h":0.71528,"l":0.71515,"c":0.71515,"ma":0.71487},
{"i":292,"o":0.71515,"h":0.71524,"l":0.71514,"c":0.71521,"ma":0.71492},
{"i":293,"o":0.71521,"h":0.71534,"l":0.71519,"c":0.71525,"ma":0.71498},
{"i":294,"o":0.71526,"h":0.71539,"l":0.71526,"c":0.71534,"ma":0.71503},
{"i":295,"o":0.71536,"h":0.71545,"l":0.71536,"c":0.71543,"ma":0.71509},
{"i":296,"o":0.71544,"h":0.71554,"l":0.71542,"c":0.71543,"ma":0.71513},
{"i":297,"o":0.71542,"h":0.71552,"l":0.71538,"c":0.71544,"ma":0.71518},
{"i":298,"o":0.71543,"h":0.71544,"l":0.71534,"c":0.71535,"ma":0.71521},
{"i":299,"o":0.71535,"h":0.71537,"l":0.71534,"c":0.71535,"ma":0.71525},
{"i":300,"o":0.71535,"h":0.71546,"l":0.71528,"c":0.71543,"ma":0.71527},
{"i":301,"o":0.71542,"h":0.71542,"l":0.71533,"c":0.71535,"ma":0.71529},
{"i":302,"o":0.71535,"h":0.71535,"l":0.71523,"c":0.71526,"ma":0.71542},
{"i":303,"o":0.71527,"h":0.71539,"l":0.71527,"c":0.71534,"ma":0.71543},
{"i":304,"o":0.71534,"h":0.71534,"l":0.71532,"c":0.71532,"ma":0.71544},
{"i":305,"o":0.71533,"h":0.71539,"l":0.71532,"c":0.71535,"ma":0.71543},
{"i":306,"o":0.71534,"h":0.71534,"l":0.71495,"c":0.71495,"ma":0.71543},
{"i":307,"o":0.71496,"h":0.71510,"l":0.71492,"c":0.71498,"ma":0.71540},
{"i":308,"o":0.71498,"h":0.71507,"l":0.71479,"c":0.71480,"ma":0.71536}
],
"checks": [
{"id":"K1","k":0,"i":4.46,"p":0.714802},{"id":"K1","k":1,"i":5.13,"p":0.714768},{"id":"K1","k":2,"i":8.33,"p":0.714849},
{"id":"K2","k":0,"i":8.13,"p":0.714777},{"id":"K2","k":1,"i":9.38,"p":0.714738},{"id":"K2","k":2,"i":12.92,"p":0.714830},
{"id":"K3","k":0,"i":48.54,"p":0.714899},{"id":"K3","k":1,"i":49.58,"p":0.714867},{"id":"K3","k":2,"i":53.0,"p":0.714949},
{"id":"K4","k":0,"i":113.66,"p":0.716300},{"id":"K4","k":1,"i":115.75,"p":0.716273},{"id":"K4","k":2,"i":118.84,"p":0.716380},
{"id":"K5","k":0,"i":156.16,"p":0.714942},{"id":"K5","k":1,"i":156.88,"p":0.714901},{"id":"K5","k":2,"i":160.75,"p":0.715000},
{"id":"K6","k":0,"i":216.04,"p":0.714037},{"id":"K6","k":1,"i":217.58,"p":0.714014},{"id":"K6","k":2,"i":220.63,"p":0.714131},
{"id":"K7","k":0,"i":231.88,"p":0.713980},{"id":"K7","k":1,"i":233.25,"p":0.713953},{"id":"K7","k":2,"i":235.0,"p":0.714056},
{"id":"K8","k":0,"i":273.0,"p":0.714837},{"id":"K8","k":1,"i":274.91,"p":0.714804},{"id":"K8","k":2,"i":275.21,"p":0.714947},
{"id":"K9","k":0,"i":299.16,"p":0.715580},{"id":"K9","k":1,"i":301.25,"p":0.715494},{"id":"K9","k":2,"i":302.08,"p":0.715702},
{"id":"K10","k":0,"i":303.42,"p":0.715527},{"id":"K10","k":1,"i":304.58,"p":0.715504},{"id":"K10","k":2,"i":306.58,"p":0.715641}
],
"crosses": [
{"i":17.21,"p":0.715657,"i2":20.33,"p2":0.715703},{"i":17.63,"p":0.715707,"i2":20.08,"p2":0.715636},
{"i":24.17,"p":0.715657,"i2":28.04,"p2":0.715720},{"i":25.13,"p":0.715737,"i2":27.50,"p2":0.715661},
{"i":62.00,"p":0.714734,"i2":67.09,"p2":0.714763},{"i":63.54,"p":0.714780,"i2":65.41,"p2":0.714713},
{"i":70.41,"p":0.714823,"i2":73.54,"p2":0.714862},{"i":70.91,"p":0.714880,"i2":72.91,"p2":0.714819},
{"i":76.25,"p":0.714674,"i2":78.88,"p2":0.714701},{"i":76.96,"p":0.714714,"i2":77.71,"p2":0.714669},
{"i":81.25,"p":0.714733,"i2":84.16,"p2":0.714773},{"i":81.66,"p":0.714784,"i2":84.04,"p2":0.714695},
{"i":107.59,"p":0.716116,"i2":109.91,"p2":0.716154},{"i":107.91,"p":0.716160,"i2":110.00,"p2":0.716112},
{"i":148.96,"p":0.715175,"i2":152.71,"p2":0.715227},{"i":149.59,"p":0.715246,"i2":152.09,"p2":0.715182},
{"i":168.84,"p":0.715040,"i2":173.13,"p2":0.715112},{"i":169.59,"p":0.715112,"i2":173.00,"p2":0.715043},
{"i":187.00,"p":0.714869,"i2":190.91,"p2":0.714968},{"i":187.09,"p":0.714968,"i2":190.84,"p2":0.714894},
{"i":249.91,"p":0.713964,"i2":253.25,"p2":0.714021},{"i":249.79,"p":0.714026,"i2":253.13,"p2":0.713978},
{"i":251.75,"p":0.714523,"i2":255.41,"p2":0.714587},{"i":251.75,"p":0.714585,"i2":255.41,"p2":0.714527}
],
"arrows": [
{"i":6.88,"p":0.714897,"dir":"up"},{"i":9.79,"p":0.714912,"dir":"up"},
{"i":18.96,"p":0.715583,"dir":"down"},{"i":23.96,"p":0.715595,"dir":"down"},
{"i":49.80,"p":0.714997,"dir":"up"},{"i":63.83,"p":0.714821,"dir":"up"},
{"i":71.88,"p":0.714912,"dir":"up"},{"i":76.88,"p":0.714759,"dir":"up"},
{"i":81.88,"p":0.714843,"dir":"up"},{"i":110.00,"p":0.716080,"dir":"down"},
{"i":115.00,"p":0.716217,"dir":"down"},{"i":152.80,"p":0.715283,"dir":"up"},
{"i":158.75,"p":0.715036,"dir":"up"},{"i":168.90,"p":0.715146,"dir":"up"},
{"i":187.80,"p":0.715027,"dir":"up"},{"i":217.80,"p":0.714168,"dir":"up"},
{"i":232.80,"p":0.714069,"dir":"up"},{"i":247.80,"p":0.713978,"dir":"up"},
{"i":255.00,"p":0.714461,"dir":"down"},{"i":276.00,"p":0.714706,"dir":"down"},
{"i":301.96,"p":0.715430,"dir":"down"},{"i":303.96,"p":0.715413,"dir":"down"},
{"i":306.04,"p":0.715416,"dir":"down"}
],
"price": [{"p":0.71584,"label":"0.71584"}]
},
"layer": [
{"data": {"name": "price"}, "mark": {"type": "rule", "color": "#3a3a3a", "strokeWidth": 1},
 "encoding": {
  "y": {"field": "p", "type": "quantitative", "title": null, "scale": {"domain": [0.713901, 0.716405], "nice": false, "zero": false}}
 }
},
{"data": {"name": "bars"}, "mark": {"type": "rule", "strokeWidth": 1},
 "encoding": {
  "x": {"field": "i", "type": "quantitative", "scale": {"domain": [-0.3125, 309.0625], "nice": false, "zero": false}, "title": null,
        "axis": {"orient": "bottom", "title": null, "values": [0,20,40,60,80,100,120,140,160,180,200,220,240,260,280,300], "labelAlign": "left", "labelBaseline": "top", "labelPadding": 2, "labelOffset": 1, "labelFlush": false, "labelOverlap": false,
                 "labelExpr": "datum.value == 0 ? '10 Aug 2020' : '10 Aug ' + floor((622 + datum.value) / 60) + ':' + ((622 + datum.value) % 60 < 10 ? '0' : '') + ((622 + datum.value) % 60)"}},
  "y": {"field": "l", "type": "quantitative", "scale": {"domain": [0.713901, 0.716405], "nice": false, "zero": false}, "title": null,
        "axis": {"orient": "right", "title": null, "values": [0.71405,0.71425,0.71445,0.71465,0.71485,0.71505,0.71525,0.71545,0.71565,0.71605,0.71625], "format": ".5f", "labelPadding": 3, "labelBaseline": "middle"}},
  "y2": {"field": "h"},
  "color": {"condition": [{"test": "datum.c > datum.o", "value": "#00FF00"}, {"test": "datum.c < datum.o", "value": "#FFB000"}], "value": "#FFFFFF"}
 }
},
{"data": {"name": "bars"}, "mark": {"type": "bar", "size": 4, "strokeWidth": 1},
 "encoding": {
  "x": {"field": "i", "type": "quantitative", "title": null, "scale": {"domain": [-0.3125, 309.0625], "nice": false, "zero": false}},
  "y": {"field": "o", "type": "quantitative", "title": null, "scale": {"domain": [0.713901, 0.716405], "nice": false, "zero": false}},
  "y2": {"field": "c"},
  "fill": {"condition": [{"test": "datum.c > datum.o", "value": "#00A000"}, {"test": "datum.c < datum.o", "value": "#FF0000"}], "value": "#FFFFFF"},
  "stroke": {"condition": [{"test": "datum.c > datum.o", "value": "#00FF00"}, {"test": "datum.c < datum.o", "value": "#FFB000"}], "value": "#FFFFFF"}
 }
},
{"data": {"name": "bars"}, "mark": {"type": "line", "color": "#1E90FF", "strokeWidth": 2},
 "encoding": {
  "x": {"field": "i", "type": "quantitative", "title": null, "scale": {"domain": [-0.3125, 309.0625], "nice": false, "zero": false}},
  "y": {"field": "ma", "type": "quantitative", "title": null, "scale": {"domain": [0.713901, 0.716405], "nice": false, "zero": false}}
 }
},
{"data": {"name": "arrows"}, "mark": {"type": "point", "filled": true, "opacity": 1, "size": 784, "color": "#FFFF00", "strokeWidth": 0},
 "encoding": {
  "x": {"field": "i", "type": "quantitative", "title": null, "scale": {"domain": [-0.3125, 309.0625], "nice": false, "zero": false}},
  "y": {"field": "p", "type": "quantitative", "title": null, "scale": {"domain": [0.713901, 0.716405], "nice": false, "zero": false}},
  "shape": {"field": "dir", "type": "nominal", "legend": null, "scale": {"domain": ["up", "down"], "range": ["M0,-1L0.78,0.02L0.6,0.2L0.24,-0.2L0.24,1L-0.24,1L-0.24,-0.2L-0.6,0.2L-0.78,0.02Z", "M0,1L0.78,-0.02L0.6,-0.2L0.24,0.2L0.24,-1L-0.24,-1L-0.24,0.2L-0.6,-0.2L-0.78,-0.02Z"]}}
 }
},
{"data": {"name": "checks"}, "mark": {"type": "line", "color": "#00FF00", "strokeWidth": 6, "strokeCap": "round", "strokeJoin": "round"},
 "encoding": {
  "x": {"field": "i", "type": "quantitative", "title": null, "scale": {"domain": [-0.3125, 309.0625], "nice": false, "zero": false}},
  "y": {"field": "p", "type": "quantitative", "title": null, "scale": {"domain": [0.713901, 0.716405], "nice": false, "zero": false}},
  "detail": {"field": "id", "type": "nominal"},
  "order": {"field": "k", "type": "quantitative"}
 }
},
{"data": {"name": "crosses"}, "mark": {"type": "rule", "color": "#FF0000", "strokeWidth": 5.5, "strokeCap": "round"},
 "encoding": {
  "x": {"field": "i", "type": "quantitative", "title": null, "scale": {"domain": [-0.3125, 309.0625], "nice": false, "zero": false}},
  "x2": {"field": "i2"},
  "y": {"field": "p", "type": "quantitative", "title": null, "scale": {"domain": [0.713901, 0.716405], "nice": false, "zero": false}},
  "y2": {"field": "p2"}
 }
},
{"data": {"name": "price"}, "mark": {"type": "rect", "color": "#FFFFFF", "clip": false},
 "encoding": {
  "x": {"datum": 309.19, "type": "quantitative", "title": null, "scale": {"domain": [-0.3125, 309.0625], "nice": false, "zero": false}},
  "x2": {"datum": 318.06},
  "y": {"datum": 0.715862, "type": "quantitative", "title": null, "scale": {"domain": [0.713901, 0.716405], "nice": false, "zero": false}},
  "y2": {"datum": 0.7158215}
 }
},
{"data": {"name": "price"}, "mark": {"type": "text", "color": "#000000", "align": "left", "baseline": "middle", "font": "Liberation Sans", "fontSize": 16, "clip": false},
 "encoding": {
  "x": {"datum": 309.94, "type": "quantitative", "title": null, "scale": {"domain": [-0.3125, 309.0625], "nice": false, "zero": false}},
  "y": {"field": "p", "type": "quantitative", "title": null, "scale": {"domain": [0.713901, 0.716405], "nice": false, "zero": false}},
  "text": {"field": "label"}
 }
}
]
}
